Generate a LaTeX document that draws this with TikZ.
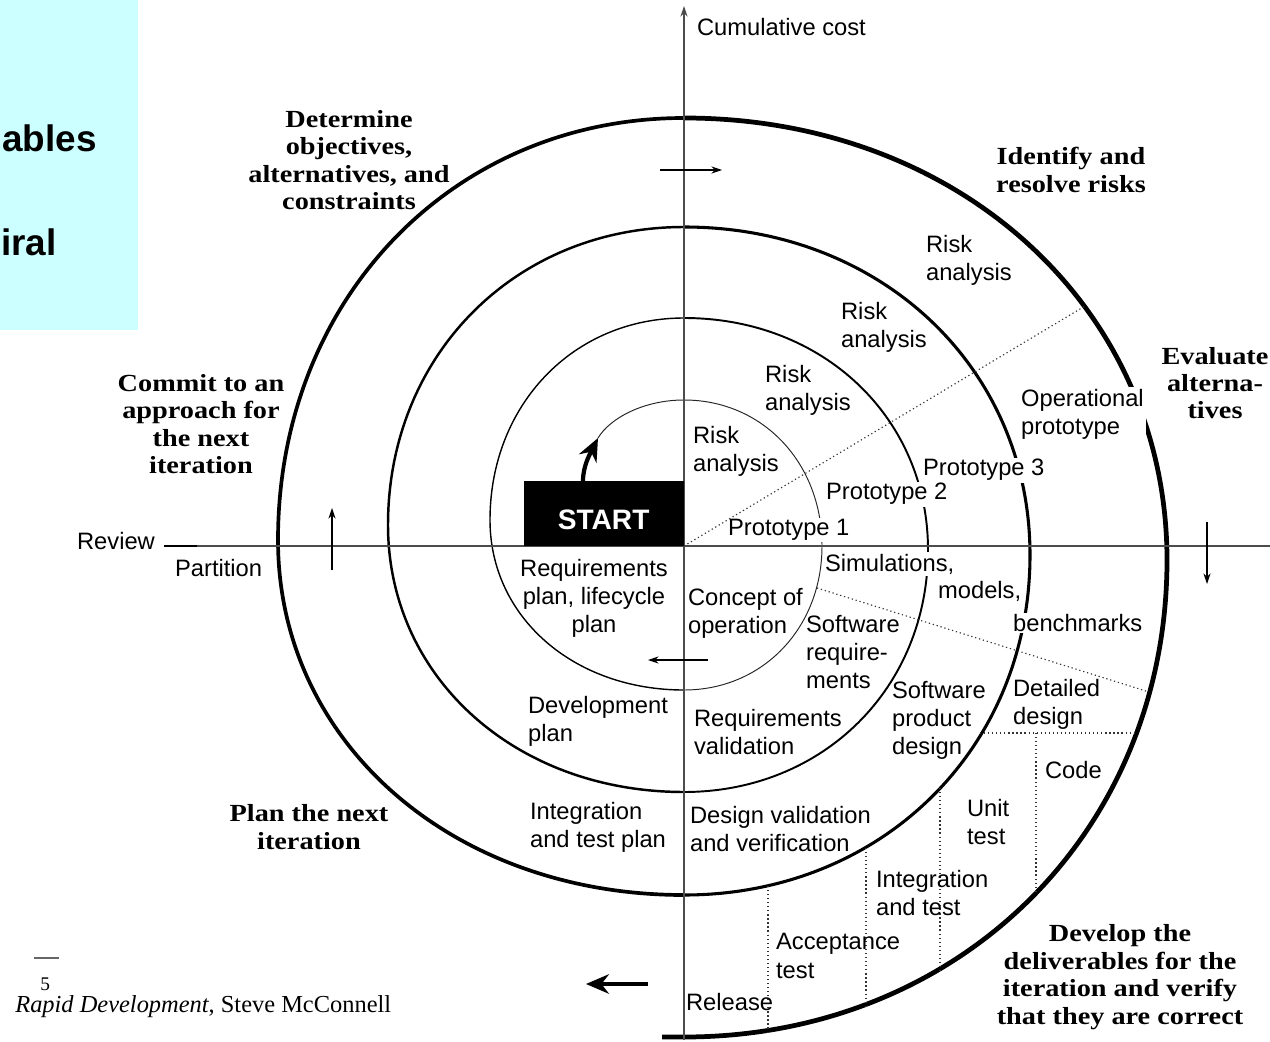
\documentclass[tikz,border=0pt]{standalone}
\usepackage{fontspec}
\setmainfont{Liberation Serif}
\newfontfamily\labfont{Liberation Sans}
\newfontfamily\headfont{Liberation Serif}[FakeStretch=1.15]
\usetikzlibrary{calc,arrows.meta}
\definecolor{slide}{HTML}{CCFFFF}
\newcommand\sanslab{\labfont\fontsize{13.5}{16}\selectfont}
\newcommand\headlab{\headfont\bfseries\fontsize{14}{15.6}\selectfont}
% quarter turns: leave horizontally / arrive vertically and the reverse
\newcommand\hv[2]{.. controls ($(#1)!\kq!(#1 -| #2)$) and ($(#2)!\kq!(#1 -| #2)$) .. (#2)}
\newcommand\vh[2]{.. controls ($(#1)!\kq!(#1 |- #2)$) and ($(#2)!\kq!(#1 |- #2)$) .. (#2)}
\tikzset{
  turn1/.style={draw=black!85, line width=0.55pt},
  turn1l/.style={draw=black, line width=0.8pt},
  turn2/.style={draw=black, line width=1.1pt},
  turn2l/.style={draw=black, line width=1.4pt},
  turn3/.style={draw=black, line width=1.75pt},
  turn3l/.style={draw=black, line width=2.1pt},
  turn4/.style={draw=black, line width=2.7pt},
  axisln/.style={draw=black!70, line width=0.6pt},
  dotline/.style={draw=black!80, line width=0.65pt, dash pattern=on 0.7pt off 1.6pt},
  tickarr/.style={draw=black, line width=0.6pt, -{Stealth[length=6pt,width=4pt]}},
  startarr/.style={draw=black, line width=2.4pt, -{Stealth[length=13pt,width=11pt]}},
  bigarr/.style={draw=black, line width=2.8pt, -{Stealth[length=13pt,width=11pt]}},
  lab/.style={font=\sanslab, align=left, inner sep=1pt},
  labfill/.style={lab, fill=white},
  head/.style={font=\headlab, align=center, inner sep=0pt},
  startbox/.style={fill=black, text=white, font=\labfont\bfseries\fontsize{16}{16}\selectfont,
    minimum width=32mm, minimum height=13mm, inner sep=0pt, text height=19pt, text depth=0pt}
}
\begin{document}
\begin{tikzpicture}[x=0.2mm,y=-0.2mm]
  \def\kq{0.57}
  \useasboundingbox (0,0) rectangle (1270,1042);
  % slide strip
  \fill[slide] (0,0) rectangle (138,330);
  \node[font=\labfont\bfseries\fontsize{21}{21}\selectfont, anchor=base east, inner sep=0pt] (tA) at (97,152) {ables};
  \node[font=\labfont\bfseries\fontsize{21}{21}\selectfont, anchor=base east, inner sep=0pt] (tB) at (57,255) {iral};

  % turning points of the spiral
  \coordinate (s0) at (598,438);
  \coordinate (T1) at (684,400);  \coordinate (R1) at (822,546);
  \coordinate (B1) at (684,690);  \coordinate (L1) at (490,520);
  \coordinate (T2) at (684,318);  \coordinate (R2) at (928,550);
  \coordinate (B2) at (684,792);  \coordinate (L2) at (388,525);
  \coordinate (T3) at (684,227);  \coordinate (R3) at (1030,555);
  \coordinate (B3) at (684,895);  \coordinate (L3) at (278,540);
  \coordinate (T4) at (684,118);  \coordinate (R4) at (1167,560);
  \coordinate (B4) at (684,1037); \coordinate (E) at (662,1037);

  \draw[turn1] (s0) .. controls +(12,-20) and +(-40,0) .. (T1) \hv{T1}{R1} \vh{R1}{B1};
  \draw[turn1l] (B1) \hv{B1}{L1} \vh{L1}{T2};
  \draw[turn2] (T2) \hv{T2}{R2} \vh{R2}{B2};
  \draw[turn2l] (B2) \hv{B2}{L2} \vh{L2}{T3};
  \draw[turn3] (T3) \hv{T3}{R3} \vh{R3}{B3};
  \draw[turn3l] (B3) \hv{B3}{L3} \vh{L3}{T4};
  \draw[turn4] (T4) \hv{T4}{R4} \vh{R4}{B4} -- (E);

  % labels that break the spiral
  \node[labfill, anchor=west] (opproto) at (1019,414) {Operational\\prototype};
  \node[labfill, anchor=west] (proto3) at (921,470) {Prototype 3};
  \node[labfill, anchor=west] (proto2) at (824,494) {Prototype 2};
  \node[labfill, anchor=west] (proto1) at (726,530) {Prototype 1};
  \node[labfill, anchor=west] (simul) at (823,564) {Simulations,};
  \node[labfill, anchor=west] (bench) at (1011,623) {benchmarks};

  % axes
  \coordinate (O) at (684,546);
  \coordinate (vt) at (684,6);   \coordinate (vb) at (684,1040);
  \coordinate (hl) at (164,546); \coordinate (hm) at (197,546);
  \coordinate (hr) at (1270,546);
  \draw[axisln, -{Stealth[length=6pt,width=4pt]}] (vb) -- (vt);
  \draw[axisln] (hl) -- (hr);
  \draw[line width=1.3pt] (hl) -- (hm);

  % dotted partitions
  \coordinate (du) at (1085,306);
  \coordinate (dl0) at (817,588);  \coordinate (dl1) at (1149,692);
  \coordinate (dh0) at (980,733);  \coordinate (dh1) at (1137,733);
  \coordinate (va0) at (1036,733); \coordinate (va1) at (1036,894);
  \coordinate (vb0) at (940,788);  \coordinate (vb1) at (940,970);
  \coordinate (vc0) at (866,848);  \coordinate (vc1) at (866,1006);
  \coordinate (vd0) at (768,886);  \coordinate (vd1) at (768,1032);
  \draw[dotline] (O) -- (du);
  \draw[dotline] (dl0) -- (dl1);
  \draw[dotline] (dh0) -- (dh1);
  \draw[dotline] (va0) -- (va1);
  \draw[dotline] (vb0) -- (vb1);
  \draw[dotline] (vc0) -- (vc1);
  \draw[dotline] (vd0) -- (vd1);

  % direction arrows
  \coordinate (at0) at (660,170);  \coordinate (at1) at (722,170);
  \coordinate (al0) at (332,570);  \coordinate (al1) at (332,508);
  \coordinate (ar0) at (1207,522); \coordinate (ar1) at (1207,584);
  \coordinate (ac0) at (708,660);  \coordinate (ac1) at (648,660);
  \coordinate (ba0) at (648,984);  \coordinate (ba1) at (586,984);
  \draw[tickarr] (at0) -- (at1);
  \draw[tickarr] (al0) -- (al1);
  \draw[tickarr] (ar0) -- (ar1);
  \draw[tickarr] (ac0) -- (ac1);
  \draw[bigarr] (ba0) -- (ba1);

  % start
  \node[startbox, anchor=south east] (start) at (O) {START};
  \coordinate (st0) at (583,481);
  \draw[startarr] (st0) .. controls +(0,-16) and +(-7,14) .. (s0);

  % quadrant headings
  \node[head] (detobj) at (349,160) {Determine\\objectives,\\alternatives, and\\constraints};
  \node[head] (idrisk) at (1071,170) {Identify and\\resolve risks};
  \node[head] (evalt) at (1215,383) {Evaluate\\alterna-\\tives};
  \node[head] (commit) at (201,424) {Commit to an\\approach for\\the next\\iteration};
  \node[head] (plannext) at (309,827) {Plan the next\\iteration};
  \node[head] (develop) at (1120,977) {Develop the\\deliverables for the\\iteration and verify\\that they are correct};

  % labels
  \node[lab, anchor=west] (cumcost) at (695,27) {Cumulative cost};
  \node[lab, anchor=east] (review) at (157,541) {Review};
  \node[lab, anchor=west] (partition) at (173,568) {Partition};
  \node[lab, anchor=west] (rsk4) at (924,260) {Risk\\analysis};
  \node[lab, anchor=west] (rsk3) at (839,327) {Risk\\analysis};
  \node[lab, anchor=west] (rsk2) at (763,390) {Risk\\analysis};
  \node[lab, anchor=west] (rsk1) at (691,451) {Risk\\analysis};
  \node[lab, anchor=west] (models) at (936,591) {models,};
  \node[lab, align=center] (reqplan) at (594,598) {Requirements\\plan, lifecycle\\plan};
  \node[lab, anchor=west] (concept) at (686,613) {Concept of\\operation};
  \node[lab, anchor=west] (swreq) at (804,652) {Software\\require-\\ments};
  \node[lab, anchor=west] (swprod) at (890,720) {Software\\product\\design};
  \node[lab, anchor=west] (detdes) at (1011,704) {Detailed\\design};
  \node[lab, anchor=west] (devplan) at (526,721) {Development\\plan};
  \node[lab, anchor=west] (reqval) at (692,732) {Requirements\\validation};
  \node[lab, anchor=west] (code) at (1043,770) {Code};
  \node[lab, anchor=west] (unit) at (965,822) {Unit\\test};
  \node[lab, anchor=west] (itplan) at (528,827) {Integration\\and test plan};
  \node[lab, anchor=west] (desval) at (688,829) {Design validation\\and verification};
  \node[lab, anchor=west] (inttest) at (874,893) {Integration\\and test};
  \node[lab, anchor=west] (accept) at (774,956) {Acceptance\\test};
  \node[lab, anchor=west] (release) at (684,1002) {Release};

  % source line
  \coordinate (pgl) at (34,958); \coordinate (pgr) at (59,958);
  \draw[black!60, line width=0.6pt] (pgl) -- (pgr);
  \node[font=\fontsize{11}{13}\selectfont, anchor=base west, inner sep=0pt] (pgno) at (40,990) {5};
  \node[font=\fontsize{13.9}{15}\selectfont, anchor=base west, inner sep=0pt] (src) at (15,1012) {\textit{Rapid Development}, Steve McConnell};
\end{tikzpicture}
\end{document}
